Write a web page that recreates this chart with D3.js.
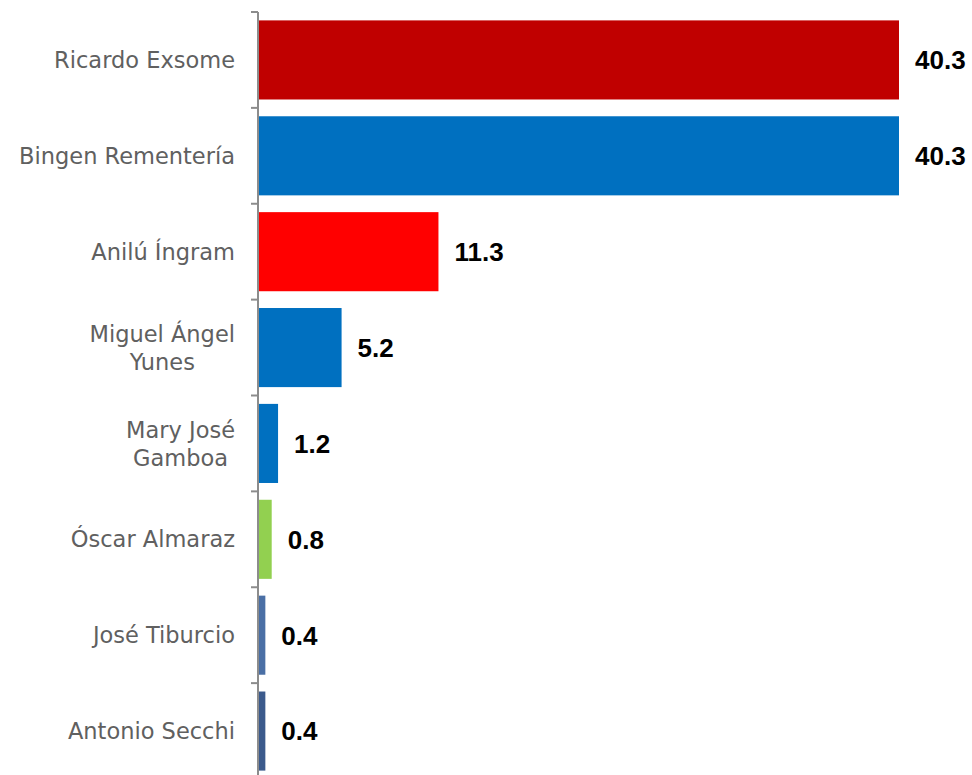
<!DOCTYPE html>
<html><head><meta charset="utf-8">
<script src="https://cdn.jsdelivr.net/npm/d3@7"></script>
<style>body{margin:0;background:#fff}</style>
</head><body>
<script>
const categories = [["Ricardo Exsome"],["Bingen Rementería"],["Anilú Íngram"],["Miguel Ángel","Yunes"],["Mary José","Gamboa"],["Óscar Almaraz"],["José Tiburcio"],["Antonio Secchi"]];
const values = [40.3, 40.3, 11.3, 5.2, 1.2, 0.8, 0.4, 0.4];
const valueLabels = ["40.3","40.3","11.3","5.2","1.2","0.8","0.4","0.4"];
const colors = ["#C00000","#0070C0","#FF0000","#0070C0","#0070C0","#92D050","#4A6FA5","#3B5A8C"];

const W = 972, H = 775;
const svg = d3.select("body").append("svg").attr("width", W).attr("height", H);
const x0 = 258;
const x = d3.scaleLinear().domain([0, 40.3]).range([x0 + 1, 899]);
const ids = categories.map((c, i) => i);
const y = d3.scaleBand().domain(ids).range([12, 779]).paddingInner(0.175).paddingOuter(0.0875);
const labelFont = "DejaVu Sans, sans-serif";
const labelSize = 22.5;

svg.selectAll("rect.bar").data(values).join("rect")
  .attr("class", "bar")
  .attr("x", x(0))
  .attr("y", (d, i) => y(i))
  .attr("width", d => x(d) - x(0))
  .attr("height", y.bandwidth())
  .attr("fill", (d, i) => colors[i]);

svg.selectAll("text.val").data(values).join("text")
  .attr("class", "val")
  .attr("x", d => x(d) + 16)
  .attr("y", (d, i) => y(i) + y.bandwidth() / 2)
  .attr("dy", "0.36em")
  .attr("font-family", "Liberation Sans, Arial, sans-serif")
  .attr("font-weight", "bold")
  .attr("font-size", 26)
  .attr("fill", "#000")
  .text((d, i) => valueLabels[i]);

// axis
const step = y.step();
svg.append("line").attr("x1", x0).attr("x2", x0).attr("y1", 12).attr("y2", 779)
  .attr("stroke", "#8c8c8c").attr("stroke-width", 2);
svg.selectAll("line.tk").data(d3.range(categories.length)).join("line")
  .attr("class", "tk")
  .attr("x1", x0 - 7).attr("x2", x0)
  .attr("y1", i => 12 + i * step).attr("y2", i => 12 + i * step)
  .attr("stroke", "#8c8c8c").attr("stroke-width", 2);

// category labels
const lab = svg.selectAll("g.lab").data(categories).join("g").attr("class", "lab");
lab.each(function (lines, i) {
  const g = d3.select(this);
  const cy = y(i) + y.bandwidth() / 2;
  const lh = 28;
  const t = g.append("text")
    .attr("font-family", labelFont)
    .attr("font-size", labelSize)
    .attr("fill", "#606060")
    .attr("text-anchor", "end");
  if (lines.length === 1) {
    t.attr("x", 235).attr("y", cy).attr("dy", "0.36em").text(lines[0]);
  } else {
    t.attr("text-anchor", "middle");
    const tmp = g.append("text").attr("font-family", labelFont).attr("font-size", labelSize);
    let maxw = 0;
    lines.forEach(l => { tmp.text(l); maxw = Math.max(maxw, tmp.node().getComputedTextLength()); });
    tmp.remove();
    const cx = 235 - maxw / 2;
    lines.forEach((l, k) => {
      t.append("tspan").attr("x", cx).attr("y", cy + (k - (lines.length - 1) / 2) * lh).attr("dy", "0.36em").text(l);
    });
  }
});
</script>
</body></html>
